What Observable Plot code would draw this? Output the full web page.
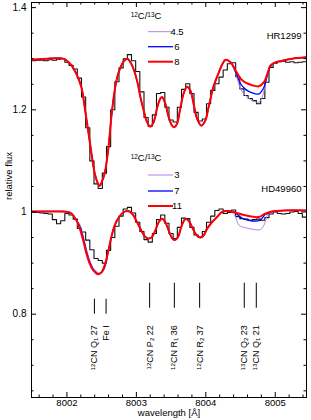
<!DOCTYPE html>
<html><head><meta charset="utf-8">
<script src="https://cdn.jsdelivr.net/npm/d3@7"></script>
<script src="https://cdn.jsdelivr.net/npm/@observablehq/plot@0.6"></script>
<style>
body{margin:0;background:#fff;}
#chart{width:311px;height:420px;}
svg{font-family:"Liberation Sans",Arial,Helvetica,sans-serif;}
</style></head><body><div id="chart"></div>
<script>
// ---------- data ----------
const wave = [8001.46,8001.52,8001.58,8001.64,8001.70,8001.76,8001.82,8001.88,8001.94,
  8002.00,8002.06,8002.12,8002.18,8002.24,8002.30,8002.36,8002.42,8002.48,8002.54,
  8002.60,8002.66,8002.72,8002.78,8002.84,8002.90,8002.96,8003.02,8003.08,8003.14,
  8003.20,8003.26,8003.32,8003.38,8003.44,8003.50,8003.56,8003.62,8003.68,8003.74,
  8003.80,8003.86,8003.92,8003.98,8004.04,8004.10,8004.16,8004.22,8004.28,8004.34,
  8004.40,8004.46,8004.52,8004.58,8004.64,8004.70,8004.76,8004.82,8004.88,8004.94,
  8005.00,8005.06,8005.12,8005.18,8005.24,8005.30,8005.36,8005.42,8005.48];
const obsHR1299 = [1.296,1.296,1.297,1.297,1.296,1.298,1.297,1.299,1.300,
  1.293,1.287,1.280,1.262,1.225,1.165,1.100,1.055,1.046,1.076,
  1.128,1.200,1.255,1.282,1.300,1.308,1.296,1.275,1.235,1.185,
  1.168,1.190,1.232,1.234,1.205,1.180,1.176,1.205,1.240,1.251,
  1.232,1.195,1.178,1.182,1.212,1.238,1.251,1.264,1.278,1.290,
  1.292,1.265,1.241,1.228,1.222,1.218,1.212,1.222,1.254,1.283,
  1.291,1.294,1.295,1.293,1.294,1.292,1.293,1.294,1.294];
const obsHD49960 = [1.000,1.000,0.999,0.998,0.997,0.996,0.985,0.977,0.983,
  0.997,0.994,0.986,0.968,0.961,0.945,0.926,0.909,0.905,0.900,
  0.925,0.950,0.972,0.992,1.006,1.009,0.998,0.980,0.962,0.946,
  0.941,0.958,0.985,0.994,0.978,0.958,0.948,0.970,0.988,0.987,
  0.970,0.955,0.951,0.962,0.980,0.992,1.003,1.006,0.997,0.999,
  1.004,0.991,0.987,0.986,0.984,0.985,0.986,0.984,0.989,0.996,
  1.000,0.997,0.996,0.997,1.000,1.001,0.997,0.990,0.989];

// synthetic spectra [wavelength, flux]
const modelHR_8 = [[8001.489,1.298],[8001.70,1.300],[8001.90,1.301],[8001.968,1.299],[8002.065,1.287],
  [8002.137,1.270],[8002.209,1.244],[8002.256,1.205],[8002.305,1.160],[8002.353,1.115],[8002.400,1.076],
  [8002.44,1.058],[8002.47,1.051],[8002.50,1.058],[8002.544,1.076],[8002.593,1.120],[8002.640,1.186],
  [8002.688,1.238],[8002.737,1.270],[8002.809,1.293],[8002.87,1.300],[8002.938,1.287],[8003.010,1.257],
  [8003.058,1.225],[8003.105,1.199],[8003.154,1.176],[8003.201,1.167],[8003.249,1.176],[8003.298,1.203],
  [8003.345,1.222],[8003.370,1.225],[8003.417,1.212],[8003.465,1.186],[8003.514,1.169],[8003.547,1.166],
  [8003.586,1.173],[8003.633,1.203],[8003.681,1.232],[8003.729,1.245],[8003.777,1.238],[8003.824,1.212],
  [8003.873,1.183],[8003.935,1.169],[8003.993,1.179],[8004.040,1.205],[8004.112,1.246],[8004.184,1.272],
  [8004.233,1.288],[8004.285,1.298],[8004.357,1.293],[8004.429,1.277],[8004.501,1.261],[8004.573,1.253],
  [8004.669,1.248],[8004.765,1.246],[8004.837,1.254],[8004.885,1.270],[8004.932,1.287],[8005.004,1.293],
  [8005.101,1.296],[8005.245,1.300],[8005.46,1.303]];
const modelHR_6_13CN = [[8004.429,1.274],[8004.501,1.251],[8004.573,1.240],[8004.669,1.233],[8004.765,1.231],
  [8004.837,1.244],[8004.885,1.267],[8004.932,1.285]];
const modelHR_45_13CN = [[8004.429,1.271],[8004.501,1.241],[8004.573,1.228],[8004.669,1.218],[8004.765,1.215],
  [8004.813,1.225],[8004.861,1.254],[8004.909,1.277]];

const modelHD_11 = [[8001.489,1.001],[8001.70,1.001],[8001.95,1.001],[8002.017,1.000],[8002.065,0.997],
  [8002.137,0.984],[8002.184,0.968],[8002.233,0.945],[8002.281,0.919],[8002.328,0.899],[8002.377,0.886],
  [8002.424,0.880],[8002.449,0.878],[8002.496,0.882],[8002.544,0.896],[8002.593,0.922],[8002.640,0.951],
  [8002.688,0.974],[8002.737,0.987],[8002.809,0.999],[8002.88,1.002],[8002.938,0.997],[8003.010,0.980],
  [8003.082,0.961],[8003.130,0.951],[8003.177,0.948],[8003.226,0.951],[8003.273,0.964],[8003.321,0.980],
  [8003.370,0.987],[8003.417,0.980],[8003.465,0.964],[8003.514,0.949],[8003.551,0.945],[8003.600,0.951],
  [8003.647,0.971],[8003.705,0.986],[8003.753,0.983],[8003.801,0.971],[8003.859,0.956],[8003.921,0.950],
  [8003.968,0.954],[8004.017,0.967],[8004.089,0.980],[8004.160,0.990],[8004.232,1.000],[8004.329,1.002],
  [8004.424,0.999],[8004.520,0.995],[8004.616,0.992],[8004.711,0.990],[8004.783,0.991],[8004.855,0.997],
  [8004.951,1.001],[8005.143,1.003],[8005.46,1.003]];
const modelHD_7_dip = [[8002.184,0.972],[8002.233,0.950],[8002.281,0.923],[8002.328,0.902],[8002.377,0.888],
  [8002.424,0.881],[8002.46,0.879],[8002.51,0.883],[8002.554,0.897]];
const modelHD_3_dip = [[8002.184,0.976],[8002.233,0.955],[8002.281,0.928],[8002.328,0.906],[8002.377,0.891],
  [8002.424,0.884],[8002.47,0.881],[8002.52,0.885],[8002.564,0.898]];
const modelHD_7_13CN = [[8004.424,0.998],[8004.520,0.988],[8004.616,0.984],[8004.711,0.982],[8004.783,0.984],
  [8004.855,0.995],[8004.93,0.999]];
const modelHD_3_13CN = [[8004.381,0.999],[8004.429,0.990],[8004.478,0.974],[8004.550,0.970],[8004.645,0.967],
  [8004.741,0.965],[8004.788,0.966],[8004.837,0.974],[8004.875,0.990],[8004.909,0.998]];

// line identifications
const lineWave = [8002.396,8002.564,8003.191,8003.547,8003.911,8004.554,8004.727];
const lineLabels = ["¹²CN Q₁ 27","Fe I","¹²CN P₂ 22","¹²CN R₁ 36","¹²CN R₂ 37","¹³CN Q₂ 23","¹³CN Q₁ 21"];

// legends
const legendTitle = "¹²C/¹³C";
const ratiosHR1299 = ["4.5","6","8"];
const ratiosHD49960 = ["3","7","11"];
const modelColors = ["#b482e6","#0000ff","#ff0000"];
const modelWidths = [1,1.3,2];
const starNames = ["HR1299","HD49960"];

// axes
const xMajor = [8002,8003,8004,8005];
const xLabels = ["8002","8003","8004","8005"];
const yMajor = [0.8,1.0,1.2,1.4];
const yLabels = ["0.8","1","1.2","1.4"];

// ---------- build ----------
function splice(base, over){
  const lo = over[0][0], hi = over[over.length-1][0];
  return [...base.filter(p=>p[0]<lo), ...over, ...base.filter(p=>p[0]>hi)];
}
const W=311,H=420, mT=2, mR=5, mB=23, mL=31;
const xD=[8001.49,8005.45], yD=[0.637,1.41];
const px = (xD[1]-xD[0])/(W-mL-mR), py=(yD[1]-yD[0])/(H-mT-mB);
const xMinor = d3.range(8001.6,8005.45,0.2).map(v=>+v.toFixed(2)).filter(v=>!xMajor.some(m=>Math.abs(m-v)<1e-6));
const yMinor = d3.range(0.65,1.41,0.05).map(v=>+v.toFixed(2)).filter(v=>!yMajor.some(m=>Math.abs(m-v)<1e-6));

const hrModels = [splice(modelHR_8,modelHR_45_13CN), splice(modelHR_8,modelHR_6_13CN), modelHR_8];
const hdModels = [splice(splice(modelHD_11,modelHD_3_dip),modelHD_3_13CN), splice(splice(modelHD_11,modelHD_7_dip),modelHD_7_13CN), modelHD_11];
const obsHR = wave.map((w,i)=>({w,f:obsHR1299[i]}));
const obsHD = wave.map((w,i)=>({w,f:obsHD49960[i]}));

const modelMarks = [];
[hrModels, hdModels].forEach(ms=>ms.forEach((m,i)=>{
  modelMarks.push(Plot.line(m,{x:d=>d[0],y:d=>d[1],curve:"catmull-rom",stroke:modelColors[i],strokeWidth:modelWidths[i],clip:true}));
}));

const plot = Plot.plot({
  width:W,height:H,marginTop:mT,marginRight:mR,marginBottom:mB,marginLeft:mL,
  x:{domain:xD,axis:null},y:{domain:yD,axis:null},
  style:{fontFamily:"Liberation Sans, Arial, sans-serif",fontSize:"10px",background:"white",color:"black"},
  marks:[
    Plot.line(obsHR,{x:"w",y:"f",curve:"step",stroke:"#111",strokeWidth:1.1,clip:true}),
    Plot.line(obsHD,{x:"w",y:"f",curve:"step",stroke:"#111",strokeWidth:1.1,clip:true}),
    ...modelMarks,
    // line identifications
    Plot.ruleX(lineWave,{x:d=>d,y1:(d,i)=>i<2?0.800:0.8117,y2:(d,i)=>i<2?0.8293:0.8606,stroke:"black",strokeWidth:1}),
    Plot.text(lineWave,{x:d=>d,y:0.7785,text:(d,i)=>lineLabels[i],rotate:-90,textAnchor:"end",fontSize:9,className:"rich"}),
    // star names
    Plot.text([starNames[0]],{frameAnchor:"top-right",dx:-5,dy:29.7,fontSize:9.5}),
    Plot.text([starNames[1]],{frameAnchor:"top-right",dx:-5,dy:183,fontSize:9.5}),
    // ticks
    Plot.ruleX(xMajor,{x:d=>d,y1:yD[0],y2:yD[0]+5*py,stroke:"black"}),
    Plot.ruleX(xMajor,{x:d=>d,y1:yD[1],y2:yD[1]-5*py,stroke:"black"}),
    Plot.ruleX(xMinor,{x:d=>d,y1:yD[0],y2:yD[0]+2.5*py,stroke:"black"}),
    Plot.ruleX(xMinor,{x:d=>d,y1:yD[1],y2:yD[1]-2.5*py,stroke:"black"}),
    Plot.ruleY(yMajor,{y:d=>d,x1:xD[0],x2:xD[0]+5*px,stroke:"black"}),
    Plot.ruleY(yMajor,{y:d=>d,x1:xD[1],x2:xD[1]-5*px,stroke:"black"}),
    Plot.ruleY(yMinor,{y:d=>d,x1:xD[0],x2:xD[0]+2.5*px,stroke:"black"}),
    Plot.ruleY(yMinor,{y:d=>d,x1:xD[1],x2:xD[1]-2.5*px,stroke:"black"}),
    Plot.frame({stroke:"black",strokeWidth:1}),
    // tick labels
    Plot.text(xMajor,{x:d=>d,text:(d,i)=>xLabels[i],frameAnchor:"bottom",dy:8,fontSize:9.5}),
    Plot.text(yMajor,{y:d=>d,text:(d,i)=>yLabels[i],frameAnchor:"left",dx:-5,textAnchor:"end",fontSize:10}),
    Plot.text(["wavelength [Å]"],{frameAnchor:"bottom",dy:18,fontSize:9.5}),
    Plot.text(["relative flux"],{frameAnchor:"left",dx:-23,rotate:-90,fontSize:9.5})
  ]
});
document.getElementById("chart").appendChild(plot);

// legends overlay
const svg = d3.select(plot);
function legend(ratios, titleY, rowYs){
  const g = svg.append("g").attr("font-size",9.5).attr("fill","black");
  g.append("text").attr("x",146).attr("y",titleY).attr("dy","0.35em").attr("class","richL").text(legendTitle);
  ratios.forEach((r,i)=>{
    g.append("line").attr("x1",148).attr("x2",173).attr("y1",rowYs[i]).attr("y2",rowYs[i])
      .attr("stroke",modelColors[i]).attr("stroke-width",modelWidths[i]);
    g.append("text").attr("x",177).attr("y",rowYs[i]).attr("dy","0.35em").text(r);
  });
}
legend(ratiosHR1299, 16, [31.7,46.7,61.7]);
legend(ratiosHD49960, 157.5, [175,191,206]);

// super/subscript rendering
const sup={"⁰":"0","¹":"1","²":"2","³":"3","⁴":"4","⁵":"5","⁶":"6","⁷":"7","⁸":"8","⁹":"9"};
const sub={"₀":"0","₁":"1","₂":"2","₃":"3","₄":"4","₅":"5","₆":"6","₇":"7","₈":"8","₉":"9"};
function rich(el){
  const s = el.textContent; const runs=[];
  for(const ch of s){
    const t = sup[ch]!==undefined?"sup":sub[ch]!==undefined?"sub":"n";
    const c = t==="sup"?sup[ch]:t==="sub"?sub[ch]:ch;
    if(runs.length && runs[runs.length-1].t===t) runs[runs.length-1].c+=c; else runs.push({t,c});
  }
  while(el.firstChild) el.removeChild(el.firstChild);
  runs.forEach(r=>{
    const ts=document.createElementNS("http://www.w3.org/2000/svg","tspan");
    ts.textContent=r.c;
    if(r.t==="sup"){ts.setAttribute("font-size","68%");ts.setAttribute("baseline-shift","38%");}
    if(r.t==="sub"){ts.setAttribute("font-size","68%");ts.setAttribute("baseline-shift","-22%");}
    el.appendChild(ts);
  });
}
plot.querySelectorAll(".rich text, text.richL").forEach(rich);
</script>
</body></html>
